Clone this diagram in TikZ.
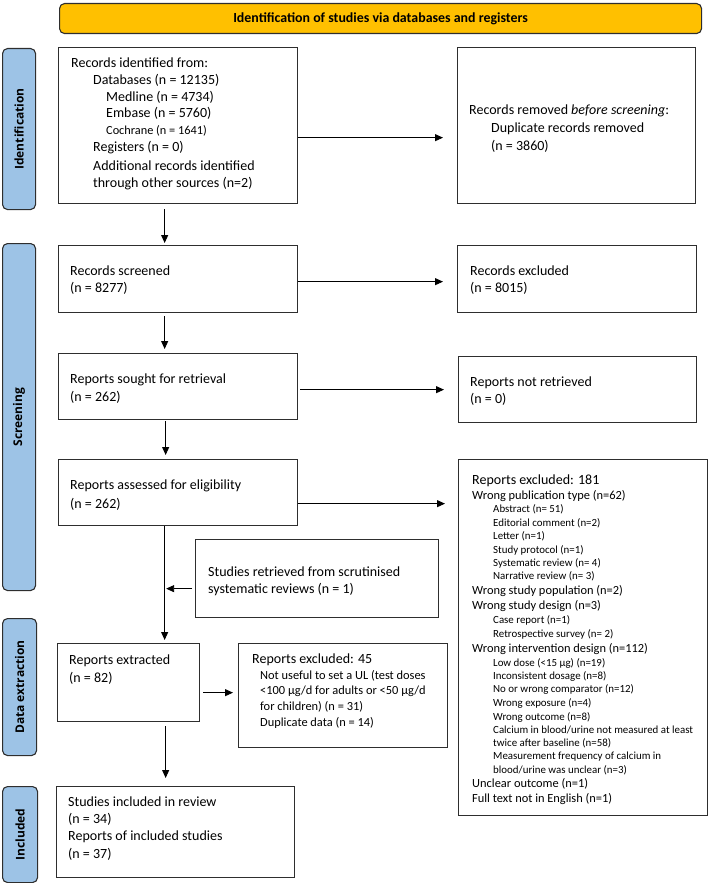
\documentclass[tikz,border=0pt]{standalone}
\usepackage{fontspec}
\setmainfont{Carlito}
\newfontfamily\barfont{Open Sans}
\usetikzlibrary{arrows.meta}
\definecolor{bannerfill}{HTML}{FFC000}
\definecolor{barfill}{HTML}{9DC3E6}
\definecolor{boxline}{HTML}{2E2E2E}
\begin{document}
\begin{tikzpicture}[x=1pt,y=-1pt,
  box/.style={draw=boxline, line width=1.3pt, fill=white, inner sep=0, anchor=north west},
  banner/.style={draw=boxline, line width=1.1pt, fill=bannerfill, rounded corners=5pt, inner sep=0, anchor=north west},
  bar/.style={draw=boxline, line width=1.1pt, fill=barfill, rounded corners=5pt, inner sep=0, anchor=north west},
  txt/.style={anchor=base west, inner sep=0, align=left, font=\fontsize{14}{17}\selectfont},
  bartxt/.style={rotate=90, font=\barfont\bfseries\fontsize{12}{14}\selectfont, inner sep=0},
  arr/.style={-{Triangle[length=8pt,width=7pt]}, line width=0.9pt, black}
]
\useasboundingbox (0,0) rectangle (709,883);

% banner and phase bars
\node[banner, minimum width=642pt, minimum height=30pt] (banner) at (59,3) {};
\node[font=\bfseries\fontsize{13.9}{17}\selectfont, inner sep=0] (tban) at (banner.center) {Identification of studies via databases and registers};

\node[bar, minimum width=33pt, minimum height=161pt] (barId) at (2,48) {};
\node[bar, minimum width=33pt, minimum height=347pt] (barScr) at (2,243) {};
\node[bar, minimum width=34pt, minimum height=137pt] (barData) at (2,618) {};
\node[bar, minimum width=35pt, minimum height=96pt] (barInc) at (2,786) {};
\node[bartxt] (tId) at (barId.center) {Identification};
\node[bartxt] (tScr) at (barScr.center) {Screening};
\node[bartxt] (tData) at (barData.center) {Data extraction};
\node[bartxt] (tInc) at (barInc.center) {Included};

% boxes
\node[box, minimum width=239pt, minimum height=156pt] (b1) at (58,47) {};
\node[box, minimum width=238pt, minimum height=156pt] (rem) at (457,47) {};
\node[box, minimum width=239pt, minimum height=67pt] (scr) at (58,245) {};
\node[box, minimum width=239pt, minimum height=67pt] (exc) at (457,245) {};
\node[box, minimum width=239pt, minimum height=66pt] (sou) at (58,353) {};
\node[box, minimum width=238pt, minimum height=66pt] (nr) at (458,356) {};
\node[box, minimum width=239pt, minimum height=66pt] (ass) at (58,459) {};
\node[box, minimum width=249pt, minimum height=356pt] (ex181) at (458,459) {};
\node[box, minimum width=243pt, minimum height=78pt] (stu) at (195,539) {};
\node[box, minimum width=142pt, minimum height=78pt] (ext) at (57,643) {};
\node[box, minimum width=209pt, minimum height=104pt] (ex45) at (238,643) {};
\node[box, minimum width=238pt, minimum height=91pt] (inc) at (56,786) {};

% texts (anchored at the baseline of their last line)
\node[txt, font=\fontsize{14}{16.8}\selectfont] (tb1) at (71,187) {Records identified from:\\
\hspace*{22pt}Databases (n = 12135)\\
\hspace*{35pt}Medline (n = 4734)\\
\hspace*{35pt}Embase (n = 5760)\\
\hspace*{35pt}{\fontsize{12.3}{16.8}\selectfont Cochrane (n = 1641)}\\
\hspace*{22pt}Registers (n = 0)\\[2pt]
\hspace*{22pt}Additional records identified\\
\hspace*{22pt}through other sources (n=2)};

\node[txt, font=\fontsize{14}{17.8}\selectfont] (trem) at (469,150) {Records removed \textit{before screening}:\\
\hspace*{22pt}Duplicate records removed\\
\hspace*{22pt}(n = 3860)};

\node[txt, font=\fontsize{14}{16.5}\selectfont] (tscr) at (70,292) {Records screened\\(n = 8277)};
\node[txt, font=\fontsize{14}{16.5}\selectfont] (texc) at (470,292) {Records excluded\\(n = 8015)};
\node[txt, font=\fontsize{14}{18}\selectfont] (tsou) at (70,401) {Reports sought for retrieval\\(n = 262)};
\node[txt, font=\fontsize{14}{17}\selectfont] (tnr) at (470,403) {Reports not retrieved\\(n = 0)};
\node[txt, font=\fontsize{14}{19}\selectfont] (tass) at (70,508) {Reports assessed for eligibility\\(n = 262)};
\node[txt, font=\fontsize{14}{17}\selectfont] (tstu) at (208,593) {Studies retrieved from scrutinised\\systematic reviews (n = 1)};
\node[txt, font=\fontsize{14}{18}\selectfont] (text) at (69,682) {Reports extracted\\(n = 82)};
\node[txt, font=\fontsize{12.4}{15.6}\selectfont] (tex45) at (252,726) {{\fontsize{14}{15.6}\selectfont Reports excluded: 45}\\[0.4pt]
\hspace*{8pt}Not useful to set a UL (test doses\\
\hspace*{8pt}<100 µg/d for adults or <50 µg/d\\
\hspace*{8pt}for children) (n = 31)\\
\hspace*{8pt}Duplicate data (n = 14)};
\node[txt, font=\fontsize{14}{17.3}\selectfont] (tinc) at (68,858) {Studies included in review\\(n = 34)\\Reports of included studies\\(n = 37)};

\node[txt, font=\fontsize{12.4}{13.3}\selectfont] (tex181) at (472,802) {{\fontsize{14}{13.3}\selectfont Reports excluded: 181}\\[1.5pt]
Wrong publication type (n=62)\\
{\fontsize{10.9}{13.3}\selectfont\hspace*{21pt}Abstract (n= 51)}\\[0.7pt]
{\fontsize{10.9}{13.3}\selectfont\hspace*{21pt}Editorial comment (n=2)}\\
{\fontsize{10.9}{13.3}\selectfont\hspace*{21pt}Letter (n=1)}\\
{\fontsize{10.9}{13.3}\selectfont\hspace*{21pt}Study protocol (n=1)}\\
{\fontsize{10.9}{13.3}\selectfont\hspace*{21pt}Systematic review (n= 4)}\\
{\fontsize{10.9}{13.3}\selectfont\hspace*{21pt}Narrative review (n= 3)}\\[1.7pt]
Wrong study population (n=2)\\[1.7pt]
Wrong study design (n=3)\\[0.7pt]
{\fontsize{10.9}{13.3}\selectfont\hspace*{21pt}Case report (n=1)}\\
{\fontsize{10.9}{13.3}\selectfont\hspace*{21pt}Retrospective survey (n= 2)}\\[1.7pt]
Wrong intervention design (n=112)\\[0.7pt]
{\fontsize{10.9}{13.3}\selectfont\hspace*{21pt}Low dose (<15 µg) (n=19)}\\
{\fontsize{10.9}{13.3}\selectfont\hspace*{21pt}Inconsistent dosage (n=8)}\\
{\fontsize{10.9}{13.3}\selectfont\hspace*{21pt}No or wrong comparator (n=12)}\\
{\fontsize{10.9}{13.3}\selectfont\hspace*{21pt}Wrong exposure (n=4)}\\[0.7pt]
{\fontsize{10.9}{13.3}\selectfont\hspace*{21pt}Wrong outcome (n=8)}\\
{\fontsize{10.9}{13.3}\selectfont\hspace*{21pt}Calcium in blood/urine not measured at least}\\
{\fontsize{10.9}{13.3}\selectfont\hspace*{21pt}twice after baseline (n=58)}\\
{\fontsize{10.9}{13.3}\selectfont\hspace*{21pt}Measurement frequency of calcium in}\\
{\fontsize{10.9}{13.3}\selectfont\hspace*{21pt}blood/urine was unclear (n=3)}\\[0.7pt]
Unclear outcome (n=1)\\[1.5pt]
Full text not in English (n=1)};

% connectors
\coordinate (vx) at ([xshift=-13.5pt]ass.south);
\draw[arr, shorten >=14pt] ([yshift=-12pt]b1.east) -- ([yshift=-12pt]b1.east -| rem.west);
\draw[arr, shorten >=14pt] ([yshift=-2.5pt]scr.east) -- ([yshift=-2.5pt]scr.east -| exc.west);
\draw[arr, shorten <=2pt, shorten >=14pt] ([yshift=-3pt]sou.east) -- ([yshift=-3pt]sou.east -| nr.west);
\draw[arr, shorten >=13pt] ([yshift=-11pt]ass.east) -- ([yshift=-11pt]ass.east -| ex181.west);
\draw[arr, shorten <=3pt, shorten >=5pt] ([yshift=-10pt]ext.east) -- ([yshift=-10pt]ext.east -| ex45.west);
\draw[arr, shorten <=3pt, shorten >=1.5pt] ([yshift=-10pt]stu.west) -- ([yshift=-10pt]stu.west -| vx);

\draw[arr, shorten <=5pt, shorten >=2pt] ([xshift=-13.5pt]b1.south) -- ([xshift=-13.5pt]b1.south |- scr.north);
\draw[arr, shorten <=3pt, shorten >=4pt] ([xshift=-13.5pt]scr.south) -- ([xshift=-13.5pt]scr.south |- sou.north);
\draw[arr, shorten <=1pt, shorten >=4pt] ([xshift=-12.5pt]sou.south) -- ([xshift=-12.5pt]sou.south |- ass.north);
\draw[arr, shorten >=3pt] (vx) -- (vx |- ext.north);
\draw[arr, shorten <=4pt, shorten >=8pt] ([xshift=37pt]ext.south) -- ([xshift=37pt]ext.south |- inc.north);
\end{tikzpicture}
\end{document}
